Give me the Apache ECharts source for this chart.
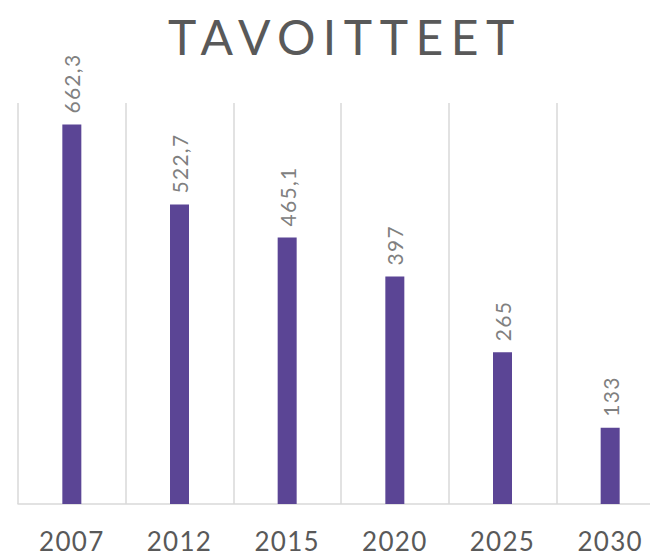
<!DOCTYPE html>
<html><head><meta charset="utf-8">
<script src="https://cdn.jsdelivr.net/npm/echarts@6/dist/echarts.min.js"></script>
<style>
html,body{margin:0;padding:0;background:#fff;overflow:hidden}
#wrap{width:650px;height:556px;overflow:hidden}
#c{width:664px;height:556px}
#c text{letter-spacing:1.3px}
#c text[style*="48px"]{letter-spacing:7.5px}
</style></head>
<body><div id="wrap"><div id="c"></div></div>
<script>
const titleText = 'TAVOITTEET';
const categories = ['2007','2012','2015','2020','2025','2030'];
const values = [662.3, 522.7, 465.1, 397, 265, 133];

const chart = echarts.init(document.getElementById('c'), null, {renderer:'svg'});
chart.setOption({
  animation:false,
  backgroundColor:'#ffffff',
  title:{
    text:titleText, left:163, top:7,
    textStyle:{fontFamily:'Lato', fontWeight:'normal', fontSize:48, color:'#595959'}
  },
  grid:{left:18, top:103, bottom:52, right:0},
  xAxis:{
    type:'category', data:categories,
    axisLine:{lineStyle:{color:'#d9d9d9', width:1.5}},
    axisTick:{show:false},
    splitLine:{show:true, lineStyle:{color:'#d9d9d9', width:1.5}},
    axisLabel:{margin:24, fontFamily:'Lato', fontSize:26, lineHeight:26, color:'#595959'}
  },
  yAxis:{type:'value', min:0, max:700, show:false, splitLine:{show:false}},
  series:[{
    type:'bar', data:values, barWidth:19,
    itemStyle:{color:'#5b4595'},
    label:{
      show:true, position:'top', rotate:90, align:'left', verticalAlign:'middle', distance:11,
      fontFamily:'Lato', fontSize:21, color:'#808080',
      formatter:p=>String(p.value).replace('.',',')
    }
  }]
});
</script></body></html>
